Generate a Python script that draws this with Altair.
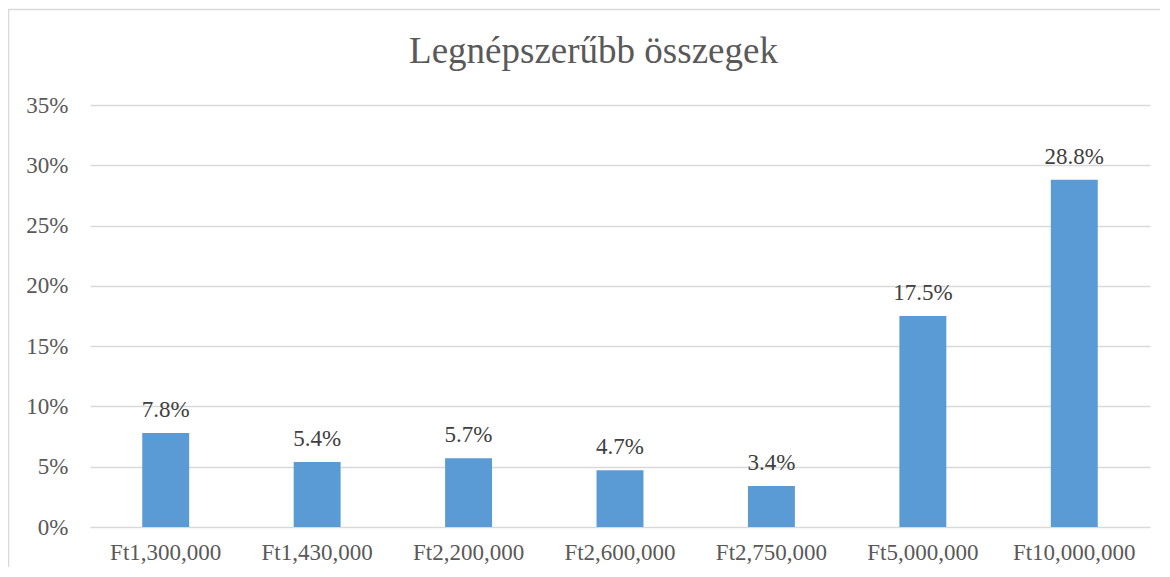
import altair as alt
import pandas as pd

categories = ["Ft1,300,000", "Ft1,430,000", "Ft2,200,000", "Ft2,600,000",
              "Ft2,750,000", "Ft5,000,000", "Ft10,000,000"]
values = [0.078, 0.054, 0.057, 0.047, 0.034, 0.175, 0.288]
y_ticks = [0, 0.05, 0.10, 0.15, 0.20, 0.25, 0.30, 0.35]
title_text = "Legnépszerűbb összegek"

W, H = 1060, 422
FONT = "'Liberation Serif', 'Times New Roman', serif"

df = pd.DataFrame({"cat": categories, "val": values})
one = pd.DataFrame({"t": [title_text]})

x_enc = alt.X("cat:N", sort=categories, title=None,
              scale=alt.Scale(paddingInner=0.69, paddingOuter=0.345),
              axis=alt.Axis(labelAngle=0, ticks=False, domain=False, grid=False,
                            labelFont=FONT, labelFontSize=23, labelColor="#595959",
                            labelPadding=14))
y_enc = alt.Y("val:Q", title=None,
              scale=alt.Scale(domain=[0, 0.35], nice=False),
              axis=alt.Axis(values=y_ticks, format=".0%", ticks=False, domain=False,
                            grid=True, gridColor="#d9d9d9", gridWidth=1.3,
                            labelFont=FONT, labelFontSize=23, labelColor="#595959",
                            labelPadding=22))

bars = alt.Chart(df).mark_bar(color="#5B9BD5").encode(x=x_enc, y=y_enc)
labels = alt.Chart(df).mark_text(font=FONT, fontSize=23, color="#404040",
                                 baseline="alphabetic", dy=-16).encode(
    x=alt.X("cat:N", sort=categories), y="val:Q",
    text=alt.Text("val:Q", format=".1%"))

title = alt.Chart(one).mark_text(font=FONT, fontSize=37, color="#595959",
                                 baseline="alphabetic", align="center").encode(
    x=alt.value(503.5), y=alt.value(-42), text="t:N")

border = alt.Chart(one).mark_rect(fill=None, stroke="#d9d9d9", strokeWidth=1.5).encode(
    x=alt.value(-81.5), x2=alt.value(W + 40), y=alt.value(-95.5), y2=alt.value(H + 60))

chart = alt.layer(border, bars, labels, title).properties(
    width=W, height=H,
    autosize=alt.AutoSizeParams(type="none"),
    padding={"left": 82, "top": 97, "right": 10, "bottom": 40},
).configure(background="white", view=alt.ViewConfig(stroke=None))

chart.save("out.html", embed_options={"renderer": "svg", "actions": False})
